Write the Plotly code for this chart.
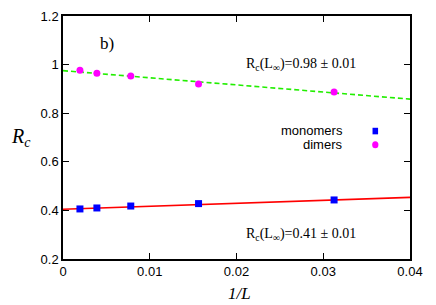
import plotly.graph_objects as go

inv_L = [1/512, 1/256, 1/128, 1/64, 1/32]
monomers = [0.406, 0.410, 0.418, 0.428, 0.443]
dimers = [0.977, 0.964, 0.953, 0.920, 0.887]
mono_fit = [0.405, 1.22]   # intercept, slope
dim_fit = [0.975, -2.93]
fit_x = [0.0, 0.04]
x_ticks = [0, 0.01, 0.02, 0.03, 0.04]
x_ticklabels = ["0", "0.01", "0.02", "0.03", "0.04"]
y_ticks = [0.2, 0.4, 0.6, 0.8, 1.0, 1.2]
y_ticklabels = ["0.2", "0.4", "0.6", "0.8", "1", "1.2"]

fig = go.Figure()
fig.add_trace(go.Scatter(x=fit_x, y=[mono_fit[0] + mono_fit[1]*x for x in fit_x],
                         mode="lines", line=dict(color="#ff0000", width=1.6),
                         showlegend=False, hoverinfo="skip"))
fig.add_trace(go.Scatter(x=fit_x, y=[dim_fit[0] + dim_fit[1]*x for x in fit_x],
                         mode="lines", line=dict(color="#22ee00", width=1.6, dash="5px,3px"),
                         showlegend=False, hoverinfo="skip"))
fig.add_trace(go.Scatter(x=inv_L, y=monomers, mode="markers",
                         marker=dict(symbol="square", size=7, color="#0000ff"),
                         showlegend=False))
fig.add_trace(go.Scatter(x=inv_L, y=dimers, mode="markers",
                         marker=dict(symbol="circle", size=7, color="#ff00ff"),
                         showlegend=False))

axis_common = dict(showline=True, linecolor="black", linewidth=1.5, mirror="ticks",
                   ticks="inside", ticklen=6, tickwidth=1, tickcolor="black",
                   showgrid=False, zeroline=False,
                   tickfont=dict(family="Liberation Sans, Arial", size=13, color="black"))
fig.update_xaxes(range=[0, 0.04], tickvals=x_ticks, ticktext=x_ticklabels, **axis_common)
fig.update_yaxes(range=[0.2, 1.2], tickvals=y_ticks, ticktext=y_ticklabels, **axis_common)

serif = dict(family="Liberation Serif, Times New Roman", color="black")
ann = [
    dict(x=0.126, y=0.885, xref="paper", yref="paper", text="b)", showarrow=False,
         font=dict(size=17, **serif), xanchor="center", yanchor="middle"),
    dict(x=0.686, y=0.8, xref="paper", yref="paper",
         text="R<sub>c</sub>(L<sub>∞</sub>)=0.98 ± 0.01", showarrow=False,
         font=dict(size=14, **serif), xanchor="center", yanchor="middle"),
    dict(x=0.686, y=0.1, xref="paper", yref="paper",
         text="R<sub>c</sub>(L<sub>∞</sub>)=0.41 ± 0.01", showarrow=False,
         font=dict(size=14, **serif), xanchor="center", yanchor="middle"),
    dict(x=0.812, y=0.527, xref="paper", yref="paper", text="monomers", showarrow=False,
         font=dict(size=13, family="Liberation Sans, Arial", color="black"),
         xanchor="right", yanchor="middle"),
    dict(x=0.812, y=0.47, xref="paper", yref="paper", text="dimers", showarrow=False,
         font=dict(size=13, family="Liberation Sans, Arial", color="black"),
         xanchor="right", yanchor="middle"),
    dict(x=-0.12, y=0.5, xref="paper", yref="paper",
         text="<i>R</i><sub><i>c</i></sub>", showarrow=False,
         font=dict(size=20, **serif), xanchor="center", yanchor="middle"),
    dict(x=0.51, y=-0.14, xref="paper", yref="paper", text="<i>1/L</i>", showarrow=False,
         font=dict(size=17, **serif), xanchor="center", yanchor="middle"),
]
shapes = [
    dict(type="rect", xref="paper", yref="paper", x0=0.892, x1=0.908, y0=0.513, y1=0.54,
         fillcolor="#0000ff", line=dict(width=0)),
    dict(type="circle", xref="paper", yref="paper", x0=0.891, x1=0.909, y0=0.456, y1=0.485,
         fillcolor="#ff00ff", line=dict(width=0)),
]
fig.update_layout(width=436, height=305,
                  margin=dict(l=63, r=26, t=16, b=46, autoexpand=False),
                  paper_bgcolor="white", plot_bgcolor="white",
                  annotations=ann, shapes=shapes, showlegend=False)
fig.write_html("out.html", config={"displayModeBar": False},
               post_script="document.body.style.margin='0';document.body.style.overflow='hidden';")
